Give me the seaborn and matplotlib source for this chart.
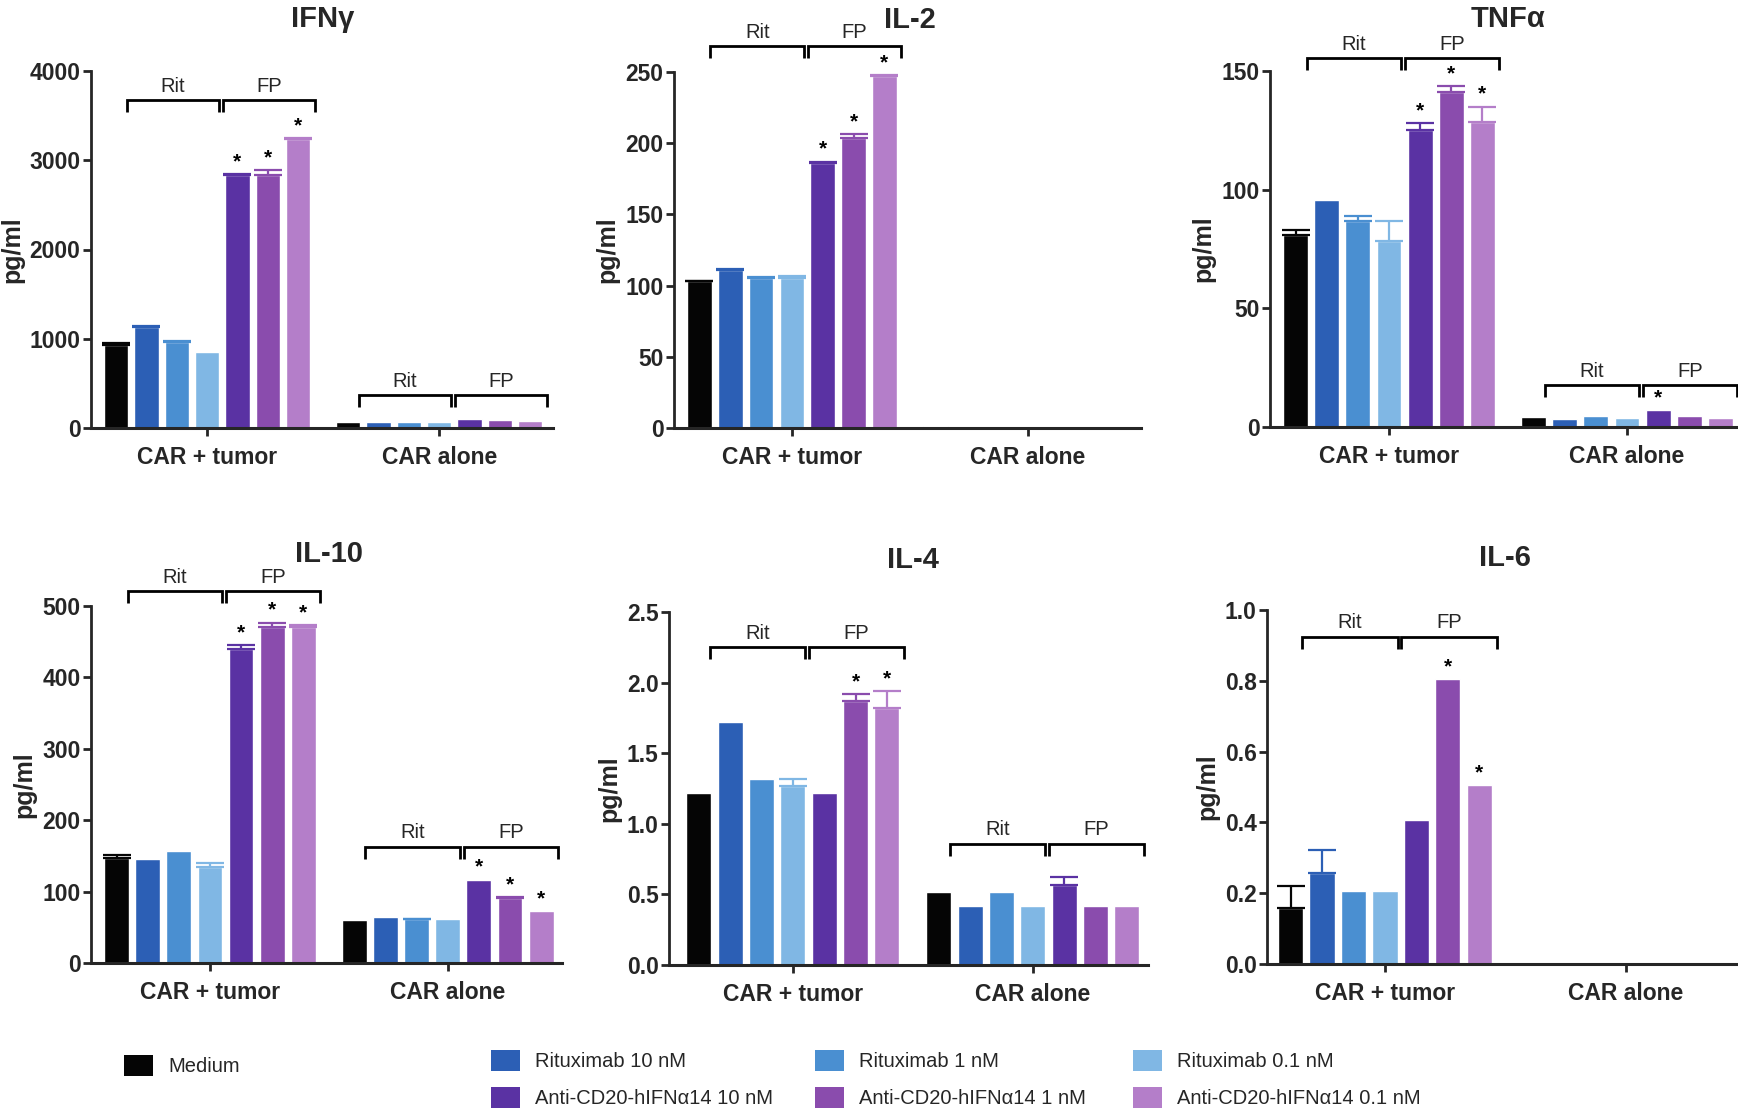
import numpy as np
import pandas as pd
import matplotlib
matplotlib.use("Agg")
import matplotlib.pyplot as plt
from matplotlib.patches import Patch
from matplotlib.ticker import FormatStrFormatter, MultipleLocator
import seaborn as sns

# ---------------- data ----------------
conditions = ["CAR + tumor", "CAR alone"]
treatments = ["Medium", "Rituximab 10 nM", "Rituximab 1 nM", "Rituximab 0.1 nM",
              "Anti-CD20-hIFNα14 10 nM", "Anti-CD20-hIFNα14 1 nM", "Anti-CD20-hIFNα14 0.1 nM"]
colors = ["#050505", "#2c5fb5", "#4a8fd1", "#80b7e4", "#5a32a3", "#8a4cad", "#b47ec9"]

ifng_tumor = [935, 1130, 960, 850, 2835, 2830, 3235]
ifng_tumor_err = [15, 15, 20, 0, 10, 60, 15]
ifng_alone = [70, 70, 65, 65, 105, 85, 75]
ifng_alone_err = [0, 0, 0, 0, 0, 0, 0]
ifng_tumor_sig = [0, 0, 0, 0, 1, 1, 1]
ifng_alone_sig = [0, 0, 0, 0, 0, 0, 0]

il2_tumor = [103, 111, 105, 105, 186, 204, 247.5]
il2_tumor_err = [0.5, 0.5, 1, 2, 1, 2.5, 0.5]
il2_alone = [1.5, 1.0, 0.8, 0.8, 1.0, 0.8, 0.8]
il2_alone_err = [0, 0, 0, 0, 0, 0, 0]
il2_tumor_sig = [0, 0, 0, 0, 1, 1, 1]
il2_alone_sig = [0, 0, 0, 0, 0, 0, 0]

tnfa_tumor = [81, 95.5, 87, 78.5, 125, 141, 128.5]
tnfa_tumor_err = [2, 0, 2, 8.5, 3, 2.5, 6.5]
tnfa_alone = [4.2, 3.5, 4.5, 3.9, 7.0, 4.8, 3.7]
tnfa_alone_err = [0, 0, 0, 0, 0, 0, 0]
tnfa_tumor_sig = [0, 0, 0, 0, 1, 1, 1]
tnfa_alone_sig = [0, 0, 0, 0, 1, 0, 0]

il10_tumor = [147, 145, 157, 135, 440, 470, 470]
il10_tumor_err = [4, 0, 0, 5, 5, 6.5, 3]
il10_alone = [60, 64.5, 61, 62, 116.5, 91, 72.5]
il10_alone_err = [0, 0, 1, 0, 0, 1, 0]
il10_tumor_sig = [0, 0, 0, 0, 1, 1, 1]
il10_alone_sig = [0, 0, 0, 0, 1, 1, 1]

il4_tumor = [1.22, 1.72, 1.32, 1.27, 1.22, 1.87, 1.82]
il4_tumor_err = [0, 0, 0, 0.05, 0, 0.05, 0.12]
il4_alone = [0.52, 0.42, 0.52, 0.42, 0.57, 0.42, 0.42]
il4_alone_err = [0, 0, 0, 0, 0.05, 0, 0]
il4_tumor_sig = [0, 0, 0, 0, 0, 1, 1]
il4_alone_sig = [0, 0, 0, 0, 0, 0, 0]

il6_tumor = [0.158, 0.257, 0.207, 0.207, 0.407, 0.805, 0.506]
il6_tumor_err = [0.063, 0.065, 0, 0, 0, 0, 0]
il6_alone = [0, 0, 0, 0, 0, 0, 0]
il6_alone_err = [0, 0, 0, 0, 0, 0, 0]
il6_tumor_sig = [0, 0, 0, 0, 0, 1, 1]
il6_alone_sig = [0, 0, 0, 0, 0, 0, 0]

titles = ["IFNγ", "IL-2", "TNFα", "IL-10", "IL-4", "IL-6"]
y_max = [4000, 250, 150, 500, 2.5, 1.0]
y_step = [1000, 50, 50, 100, 0.5, 0.2]
y_fmt = ["%d", "%d", "%d", "%d", "%.1f", "%.1f"]
# height of the "Rit / FP" brackets in each group (None = no bracket)
bracket_top = [(3675, 366), (268, None), (155.4, 17.6), (521, 163), (2.25, 0.86), (0.925, None)]

panel_data = [
    (ifng_tumor, ifng_alone, ifng_tumor_err, ifng_alone_err, ifng_tumor_sig, ifng_alone_sig),
    (il2_tumor, il2_alone, il2_tumor_err, il2_alone_err, il2_tumor_sig, il2_alone_sig),
    (tnfa_tumor, tnfa_alone, tnfa_tumor_err, tnfa_alone_err, tnfa_tumor_sig, tnfa_alone_sig),
    (il10_tumor, il10_alone, il10_tumor_err, il10_alone_err, il10_tumor_sig, il10_alone_sig),
    (il4_tumor, il4_alone, il4_tumor_err, il4_alone_err, il4_tumor_sig, il4_alone_sig),
    (il6_tumor, il6_alone, il6_tumor_err, il6_alone_err, il6_tumor_sig, il6_alone_sig),
]

# ---------------- style ----------------
sns.set_theme(style="ticks")
plt.rcParams['font.family'] = ['Liberation Sans', 'DejaVu Sans']
plt.rcParams['axes.linewidth'] = 2.0

W, H = 1738, 1112
fig = plt.figure(figsize=(W / 100, H / 100), dpi=100)

# axes boxes in pixels: left, top, bottom, right
boxes = [(91, 71, 428, 553), (674, 72, 428, 1141), (1270, 71, 427, 1746),
         (91, 606, 963, 562), (669, 612, 965, 1148), (1267, 610, 964, 1746)]
xlims = [(-0.5, 1.49), (-0.5, 1.48), (-0.5, 1.5), (-0.5, 1.48), (-0.516, 1.48), (-0.49, 1.5)]


def center(bar):
    return bar.get_x() + bar.get_width() / 2


for p in range(6):
    l, t, b, r = boxes[p]
    ax = fig.add_axes([l / W, 1 - b / H, (r - l) / W, (b - t) / H])
    tumor, alone, terr, aerr, tsig, asig = panel_data[p]
    df = pd.DataFrame({
        "condition": [conditions[0]] * 7 + [conditions[1]] * 7,
        "treatment": treatments * 2,
        "value": list(tumor) + list(alone),
    })
    sns.barplot(data=df, x="condition", y="value", hue="treatment", order=conditions,
                hue_order=treatments, palette=colors, saturation=1, width=0.915, gap=0.2,
                errorbar=None, legend=False, ax=ax)
    bar_conts = list(ax.containers)

    errs = [terr, aerr]
    sigs = [tsig, asig]
    for k, cont in enumerate(bar_conts):
        for j, bar in enumerate(cont):
            x = center(bar)
            h = bar.get_height()
            e = errs[j][k]
            if e > 0:
                ax.errorbar([x], [h], yerr=[[0], [e]], fmt="none", ecolor=colors[k],
                            elinewidth=1.6, capsize=10, capthick=1.6, zorder=3)
            if sigs[j][k]:
                ax.annotate("*", xy=(x, h + e), xytext=(0, 5), textcoords="offset points",
                            ha="center", va="baseline", fontsize=15, fontweight="bold",
                            color="black", annotation_clip=False)

    ymax = y_max[p]
    ax.set_ylim(0, ymax)
    ax.set_xlim(*xlims[p])
    ax.yaxis.set_major_locator(MultipleLocator(y_step[p]))
    ax.yaxis.set_major_formatter(FormatStrFormatter(y_fmt[p]))
    sns.despine(ax=ax)
    ax.spines['left'].set_linewidth(2.0)
    ax.spines['bottom'].set_linewidth(2.2)
    ax.tick_params(axis='y', length=6, width=2, pad=1.5, labelsize=16.5)
    ax.tick_params(axis='x', length=6, width=2, pad=7, labelsize=16.5)
    for lab in ax.get_yticklabels() + ax.get_xticklabels():
        lab.set_fontweight("bold")
    ax.set_xlabel("")
    ax.set_ylabel("pg/ml", fontsize=18, fontweight="bold", labelpad=4)

    # title centred over the two groups
    ax.annotate(titles[p], xy=(0.5, 1.0), xycoords=("data", "axes fraction"),
                xytext=(0, 32), textcoords="offset points", ha="center", va="baseline",
                fontsize=21, fontweight="bold", annotation_clip=False)

    # Rit / FP brackets
    ax_h = b - t
    dy = 12 / ax_h * ymax
    for j in range(2):
        yt = bracket_top[p][j]
        if yt is None:
            continue
        c0 = center(bar_conts[0][j])
        pitch = center(bar_conts[1][j]) - c0
        for a, bb, lab in [(0.35, 3.4, "Rit"), (3.52, 6.55, "FP")]:
            x0 = c0 + a * pitch
            x1 = c0 + bb * pitch
            ax.plot([x0, x0, x1, x1], [yt - dy, yt, yt, yt - dy], color="black", lw=2,
                    clip_on=False, solid_joinstyle="miter", solid_capstyle="butt")
            ax.annotate(lab, xy=((x0 + x1) / 2, yt), xytext=(0, 6), textcoords="offset points",
                        ha="center", va="baseline", fontsize=14.5, annotation_clip=False)

# ---------------- legend ----------------
handles = [Patch(facecolor=c, edgecolor="none") for c in colors]
leg_kw = dict(loc="upper left", frameon=False, borderpad=0, borderaxespad=0,
              handlelength=1.45, handleheight=1.25, handletextpad=0.75, labelspacing=0.75,
              prop={"size": 14.5, "family": ['Liberation Sans', 'DejaVu Sans']})
fig.legend([handles[0]], [treatments[0]], bbox_to_anchor=(124 / W, 1 - 1055 / H), **leg_kw)
for col, xpx in enumerate([491, 815, 1133]):
    i1, i2 = 1 + col, 4 + col
    fig.legend([handles[i1], handles[i2]], [treatments[i1], treatments[i2]],
               bbox_to_anchor=(xpx / W, 1 - 1050 / H), **leg_kw)

fig.savefig("out.png", dpi=100, facecolor="white")
